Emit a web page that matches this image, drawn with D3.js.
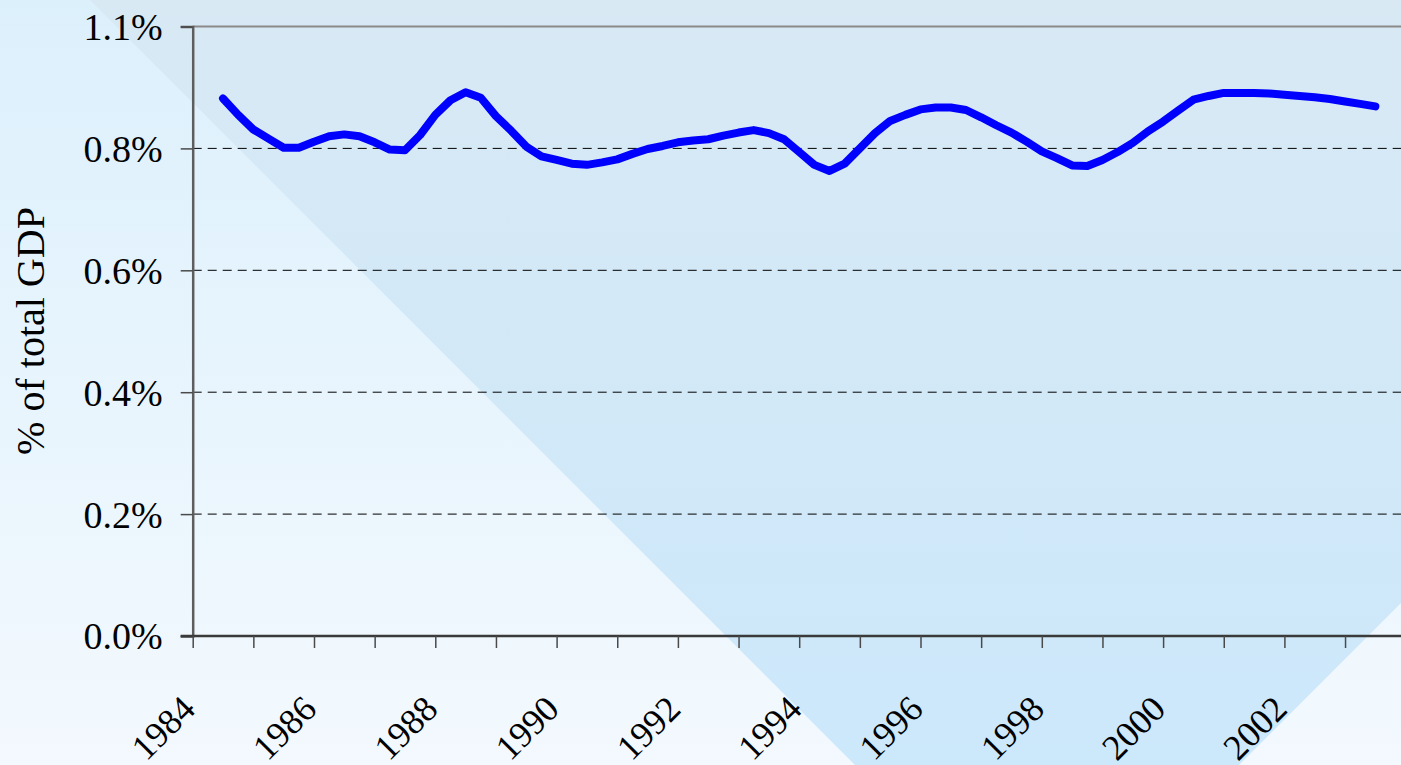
<!DOCTYPE html>
<html>
<head>
<meta charset="utf-8">
<script src="https://cdn.jsdelivr.net/npm/d3@7"></script>
<style>
  body { margin: 0; overflow: hidden; }
  svg { display: block; }
  text { font-family: "Palatino Linotype", "Book Antiqua", Palatino, "Liberation Serif", serif; fill: #000; }
</style>
</head>
<body>
<div id="chart"></div>
<script>
// year ticks on the x axis and the labels shown under every second one
const YEAR_TICKS = [1984, 1985, 1986, 1987, 1988, 1989, 1990, 1991, 1992, 1993,
                    1994, 1995, 1996, 1997, 1998, 1999, 2000, 2001, 2002, 2003];
const YEAR_LABELS = ["1984", "1986", "1988", "1990", "1992", "1994", "1996", "1998", "2000", "2002"];

// y ticks and their labels (top label reads 1.1% in the source)
const Y_TICKS = [0, 0.2, 0.4, 0.6, 0.8, 1.0];
const Y_LABELS = ["0.0%", "0.2%", "0.4%", "0.6%", "0.8%", "1.1%"];

// quarterly readings, % of total GDP
const PERIODS = [
  1984.50, 1984.75,
  1985.00, 1985.25, 1985.50, 1985.75,
  1986.00, 1986.25, 1986.50, 1986.75,
  1987.00, 1987.25, 1987.50, 1987.75,
  1988.00, 1988.25, 1988.50, 1988.75,
  1989.00, 1989.25, 1989.50, 1989.75,
  1990.00, 1990.25, 1990.50, 1990.75,
  1991.00, 1991.25, 1991.50, 1991.75,
  1992.00, 1992.25, 1992.50, 1992.75,
  1993.00, 1993.25, 1993.50, 1993.75,
  1994.00, 1994.25, 1994.50, 1994.75,
  1995.00, 1995.25, 1995.50, 1995.75,
  1996.00, 1996.25, 1996.50, 1996.75,
  1997.00, 1997.25, 1997.50, 1997.75,
  1998.00, 1998.25, 1998.50, 1998.75,
  1999.00, 1999.25, 1999.50, 1999.75,
  2000.00, 2000.25, 2000.50, 2000.75,
  2001.00, 2001.25, 2001.50, 2001.75,
  2002.00, 2002.25, 2002.50, 2002.75,
  2003.00, 2003.25, 2003.50
];
const SHARE = [
  0.882, 0.855,
  0.831, 0.816, 0.801, 0.801,
  0.811, 0.820, 0.823, 0.820,
  0.810, 0.798, 0.797, 0.822,
  0.855, 0.879, 0.892, 0.883,
  0.853, 0.829, 0.803, 0.787,
  0.781, 0.775, 0.773, 0.777,
  0.782, 0.791, 0.799, 0.804,
  0.810, 0.813, 0.815, 0.821,
  0.826, 0.830, 0.825, 0.815,
  0.794, 0.773, 0.763, 0.775,
  0.800, 0.825, 0.845, 0.855,
  0.864, 0.867, 0.867, 0.863,
  0.851, 0.838, 0.826, 0.811,
  0.795, 0.784, 0.772, 0.771,
  0.781, 0.794, 0.809, 0.828,
  0.844, 0.862, 0.880, 0.886,
  0.891, 0.891, 0.891, 0.890,
  0.888, 0.886, 0.884, 0.881,
  0.877, 0.873, 0.869
];

const W = 1401, H = 765;
const MARGIN = { top: 26.5, left: 192.7, bottom: 129 };
const PLOT_H = H - MARGIN.top - MARGIN.bottom;

const svg = d3.select("#chart")
  .append("svg")
    .attr("width", W)
    .attr("height", H);

// BACKGROUND
const defs = svg.append("defs");
const bgGrad = defs.append("linearGradient")
    .attr("id", "bg").attr("x1", 0).attr("y1", 0).attr("x2", 0).attr("y2", 1);
bgGrad.append("stop").attr("offset", "0%").attr("stop-color", "#dcf0fc");
bgGrad.append("stop").attr("offset", "100%").attr("stop-color", "#f3f9fe");
const bandGrad = defs.append("linearGradient")
    .attr("id", "band").attr("gradientUnits", "userSpaceOnUse")
    .attr("x1", 0).attr("y1", 0).attr("x2", 0).attr("y2", H);
bandGrad.append("stop").attr("offset", "0%").attr("stop-color", "#d8e9f4");
bandGrad.append("stop").attr("offset", "100%").attr("stop-color", "#cce8fb");

svg.append("rect")
    .attr("width", W).attr("height", H)
    .attr("fill", "url(#bg)");
svg.append("polygon")
    .attr("points", "90,0 1047,957 2004,0")
    .attr("fill", "url(#band)");

// SCALES
const x = d3.scaleLinear()
    .domain([1984, 2004])
    .range([MARGIN.left, MARGIN.left + 20 * 60.65]);
const y = d3.scaleLinear()
    .domain([0, 1])
    .range([MARGIN.top + PLOT_H, MARGIN.top]);

// GRIDLINES
svg.append("g")
  .selectAll("line")
  .data(Y_TICKS.slice(1, -1))
  .join("line")
    .attr("x1", MARGIN.left)
    .attr("x2", W)
    .attr("y1", d => y(d))
    .attr("y2", d => y(d))
    .attr("stroke", "#000")
    .attr("stroke-width", 1)
    .attr("stroke-dasharray", "9,6");

// top border
svg.append("line")
    .attr("x1", MARGIN.left).attr("x2", W)
    .attr("y1", y(1)).attr("y2", y(1))
    .attr("stroke", "#8a8a8a")
    .attr("stroke-width", 2);

// Y AXIS
const yAxis = svg.append("g")
    .attr("transform", `translate(${MARGIN.left},0)`)
    .call(d3.axisLeft(y)
        .tickValues(Y_TICKS)
        .tickSize(12)
        .tickFormat((d, i) => Y_LABELS[i]));
yAxis.select(".domain").attr("stroke", "#5e5e5e").attr("stroke-width", 2.5);
yAxis.selectAll(".tick line").attr("stroke", "#4a4a4a").attr("stroke-width", 1.5);
yAxis.selectAll(".tick text")
    .attr("x", -30)
    .attr("dy", "0.34em")
    .style("font-size", "38px");

svg.append("text")
    .attr("transform", `translate(44, 331) rotate(-90)`)
    .attr("text-anchor", "middle")
    .style("font-size", "40px")
    .text("% of total GDP");

// X AXIS
const xAxis = svg.append("g")
    .attr("transform", `translate(0, ${y(0)})`)
    .call(d3.axisBottom(x)
        .tickValues(YEAR_TICKS)
        .tickSize(12)
        .tickSizeOuter(0)
        .tickFormat(d => YEAR_LABELS.includes(String(d)) ? String(d) : ""));
xAxis.select(".domain")
    .attr("d", `M${MARGIN.left - 12},0H${W}`)
    .attr("stroke", "#3a3a3a").attr("stroke-width", 2.5);
xAxis.selectAll(".tick line").attr("stroke", "#4a4a4a").attr("stroke-width", 1.5);
xAxis.selectAll(".tick text")
    .attr("y", 0).attr("dy", 0)
    .attr("text-anchor", "end")
    .attr("transform", "translate(4, 75) rotate(-45)")
    .style("font-size", "36px");

// LINE
const line = d3.line()
    .x((d, i) => x(PERIODS[i]))
    .y(d => y(d));

svg.append("path")
    .datum(SHARE)
    .attr("d", line)
    .attr("fill", "none")
    .attr("stroke", "#0000ff")
    .attr("stroke-width", 8)
    .attr("stroke-linejoin", "round")
    .attr("stroke-linecap", "round");
</script>
</body>
</html>
